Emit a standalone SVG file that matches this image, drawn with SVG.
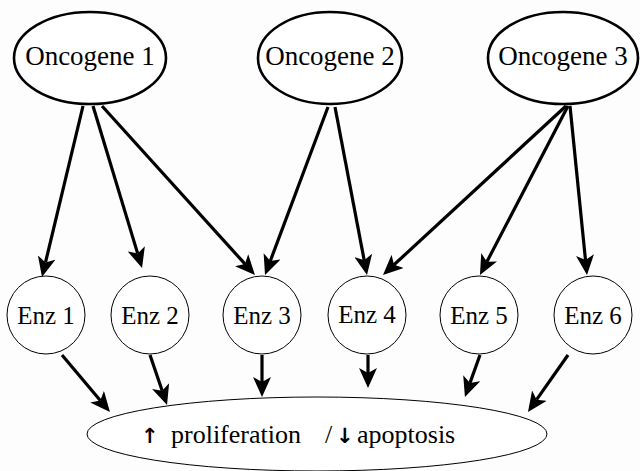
<svg xmlns="http://www.w3.org/2000/svg" width="640" height="471" viewBox="0 0 640 471">
<style>
.onc{fill:#fff;stroke:#000;stroke-width:2.6}
.enz{fill:#fff;stroke:#000;stroke-width:1}
.out{fill:#fff;stroke:#000;stroke-width:1}
.t{fill:#000;text-anchor:middle}
.big{font-size:27px}
.mid{font-size:25px}
.e{fill:none;stroke:#000;stroke-width:3.2}
.sym{font-family:"DejaVu Sans",sans-serif;font-size:21px;font-weight:bold}
</style>
<defs>
<marker id="ah" markerUnits="userSpaceOnUse" markerWidth="20" markerHeight="18" refX="5" refY="9" orient="auto" viewBox="0 0 20 18">
<path d="M0,0 L20,9 L0,18 L5,9 z" fill="#000"/>
</marker>
</defs>
<rect width="640" height="471" fill="#fdfdfd"/>
<g id="connectors">
<path class="e" marker-end="url(#ah)" d="M83,106 L45.5,262.4"/>
<path class="e" marker-end="url(#ah)" d="M93,106 L137.7,253.6"/>
<path class="e" marker-end="url(#ah)" d="M102,106 L244.9,263.9"/>
<path class="e" marker-end="url(#ah)" d="M328,107 L270.3,261"/>
<path class="e" marker-end="url(#ah)" d="M335,107 L364.2,260.3"/>
<path class="e" marker-end="url(#ah)" d="M566,106 L394,264.8"/>
<path class="e" marker-end="url(#ah)" d="M568,106 L486.9,261.7"/>
<path class="e" marker-end="url(#ah)" d="M570,106 L585.5,260.1"/>
<path class="e" marker-end="url(#ah)" d="M62,355 L100.3,400.5"/>
<path class="e" marker-end="url(#ah)" d="M150,355 L162.2,390.8"/>
<path class="e" marker-end="url(#ah)" d="M262,355 L262,382"/>
<path class="e" marker-end="url(#ah)" d="M368,355 L368,373"/>
<path class="e" marker-end="url(#ah)" d="M480,355 L470,382.9"/>
<path class="e" marker-end="url(#ah)" d="M568,355 L536.6,399.7"/>
</g>
<g font-family="'Liberation Serif', 'Times New Roman', serif">
<g id="oncogene1"><ellipse class="onc" cx="90" cy="58" rx="76" ry="46"/><text class="t big" x="90" y="65">Oncogene 1</text></g>
<g id="oncogene2"><ellipse class="onc" cx="330" cy="58" rx="72" ry="46"/><text class="t big" x="330" y="65">Oncogene 2</text></g>
<g id="oncogene3"><ellipse class="onc" cx="563" cy="58" rx="75" ry="46"/><text class="t big" x="563" y="65">Oncogene 3</text></g>
<g id="enz1"><circle class="enz" cx="46" cy="315" r="39"/><text class="t mid" x="46" y="324">Enz 1</text></g>
<g id="enz2"><circle class="enz" cx="150" cy="315" r="39"/><text class="t mid" x="150" y="324">Enz 2</text></g>
<g id="enz3"><circle class="enz" cx="262" cy="315" r="39"/><text class="t mid" x="262" y="324">Enz 3</text></g>
<g id="enz4"><circle class="enz" cx="367" cy="315" r="39"/><text class="t mid" x="367" y="323">Enz 4</text></g>
<g id="enz5"><circle class="enz" cx="479" cy="315" r="39"/><text class="t mid" x="479" y="324">Enz 5</text></g>
<g id="enz6"><circle class="enz" cx="593" cy="315" r="39"/><text class="t mid" x="593" y="324">Enz 6</text></g>
<g id="outcome"><ellipse class="out" cx="317" cy="434" rx="230" ry="37"/><text font-size="26" fill="#000" y="443"><tspan class="sym" x="141">↑</tspan><tspan x="171">proliferation</tspan><tspan x="325">/</tspan><tspan class="sym" x="336">↓</tspan><tspan x="357">apoptosis</tspan></text></g>
</g>
</svg>
